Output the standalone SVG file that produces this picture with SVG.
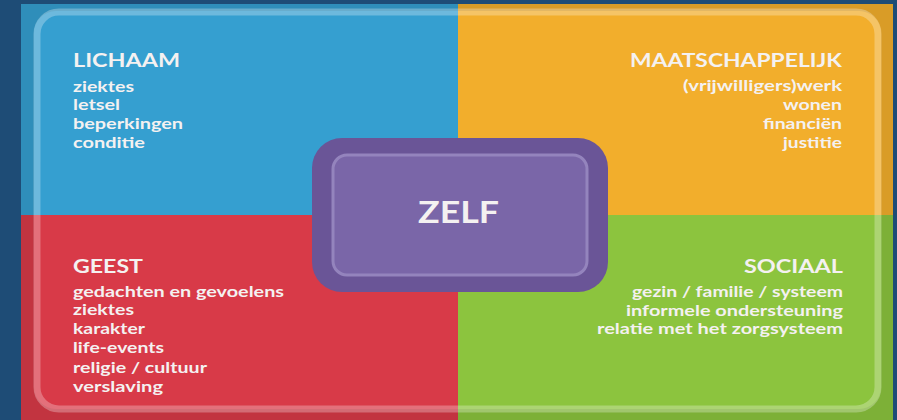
<svg xmlns="http://www.w3.org/2000/svg" width="897" height="420" viewBox="0 0 897 420">
<defs>
<style>
.t{font-family:Lato,"Open Sans","Liberation Sans",sans-serif;fill:#f4f1f1;font-weight:700;}
.h{font-size:18px;}
.i{font-size:15px;}
</style>
</defs>
<rect x="0" y="0" width="897" height="420" fill="#1e4c76"/>
<g id="lichaam">
<rect x="21" y="4" width="437" height="211" fill="#359fd0"/>
</g>
<g id="maatschappelijk">
<rect x="458" y="4" width="435" height="211" fill="#f2ae2c"/>
</g>
<g id="geest">
<rect x="21" y="215" width="437" height="205" fill="#d83a48"/>
</g>
<g id="sociaal">
<rect x="458" y="215" width="435" height="205" fill="#8cc43e"/>
</g>
<path d="M21 4H893V420H21Z M56 11A22 22 0 0 0 34 33V387A22 22 0 0 0 56 409H859A22 22 0 0 0 881 387V33A22 22 0 0 0 859 11Z" fill="#000" fill-opacity="0.1" fill-rule="evenodd"/>
<rect x="37" y="12" width="841" height="397" rx="22" fill="none" stroke="#fff" stroke-opacity="0.28" stroke-width="7"/>
<g id="lichaam-text">
<text class="t h" x="73" y="67" textLength="107" lengthAdjust="spacingAndGlyphs">LICHAAM</text>
<text class="t i" x="73" y="92" textLength="61" lengthAdjust="spacingAndGlyphs">ziektes</text>
<text class="t i" x="73" y="110" textLength="47" lengthAdjust="spacingAndGlyphs">letsel</text>
<text class="t i" x="73" y="129" textLength="110" lengthAdjust="spacingAndGlyphs">beperkingen</text>
<text class="t i" x="73" y="148" textLength="72" lengthAdjust="spacingAndGlyphs">conditie</text>
</g>
<g id="maatschappelijk-text">
<text class="t h" x="630" y="67" textLength="212" lengthAdjust="spacingAndGlyphs">MAATSCHAPPELIJK</text>
<text class="t i" x="683" y="91" textLength="159" lengthAdjust="spacingAndGlyphs">(vrijwilligers)werk</text>
<text class="t i" x="783" y="110" textLength="59" lengthAdjust="spacingAndGlyphs">wonen</text>
<text class="t i" x="763" y="129" textLength="79" lengthAdjust="spacingAndGlyphs">financiën</text>
<text class="t i" x="783" y="148" textLength="59" lengthAdjust="spacingAndGlyphs">justitie</text>
</g>
<g id="geest-text">
<text class="t h" x="73" y="273" textLength="70" lengthAdjust="spacingAndGlyphs">GEEST</text>
<text class="t i" x="73" y="297" textLength="211" lengthAdjust="spacingAndGlyphs">gedachten en gevoelens</text>
<text class="t i" x="73" y="315" textLength="61" lengthAdjust="spacingAndGlyphs">ziektes</text>
<text class="t i" x="73" y="334" textLength="72" lengthAdjust="spacingAndGlyphs">karakter</text>
<text class="t i" x="73" y="353" textLength="91" lengthAdjust="spacingAndGlyphs">life-events</text>
<text class="t i" x="73" y="373" textLength="134" lengthAdjust="spacingAndGlyphs">religie / cultuur</text>
<text class="t i" x="73" y="392" textLength="90" lengthAdjust="spacingAndGlyphs">verslaving</text>
</g>
<g id="sociaal-text">
<text class="t h" x="744" y="273" textLength="99" lengthAdjust="spacingAndGlyphs">SOCIAAL</text>
<text class="t i" x="632" y="297" textLength="211" lengthAdjust="spacingAndGlyphs">gezin / familie / systeem</text>
<text class="t i" x="626" y="316" textLength="217" lengthAdjust="spacingAndGlyphs">informele ondersteuning</text>
<text class="t i" x="597" y="334" textLength="246" lengthAdjust="spacingAndGlyphs">relatie met het zorgsysteem</text>
</g>
<g id="zelf">
<rect x="312" y="138" width="296" height="154" rx="30" fill="#6a5597"/>
<rect x="333" y="155" width="254" height="120" rx="14" fill="#7a66a8" stroke="#9484bd" stroke-width="3"/>
<text class="t" x="418" y="223" font-size="30" textLength="81" lengthAdjust="spacingAndGlyphs">ZELF</text>
</g>
<g id="connectors"/>
</svg>
